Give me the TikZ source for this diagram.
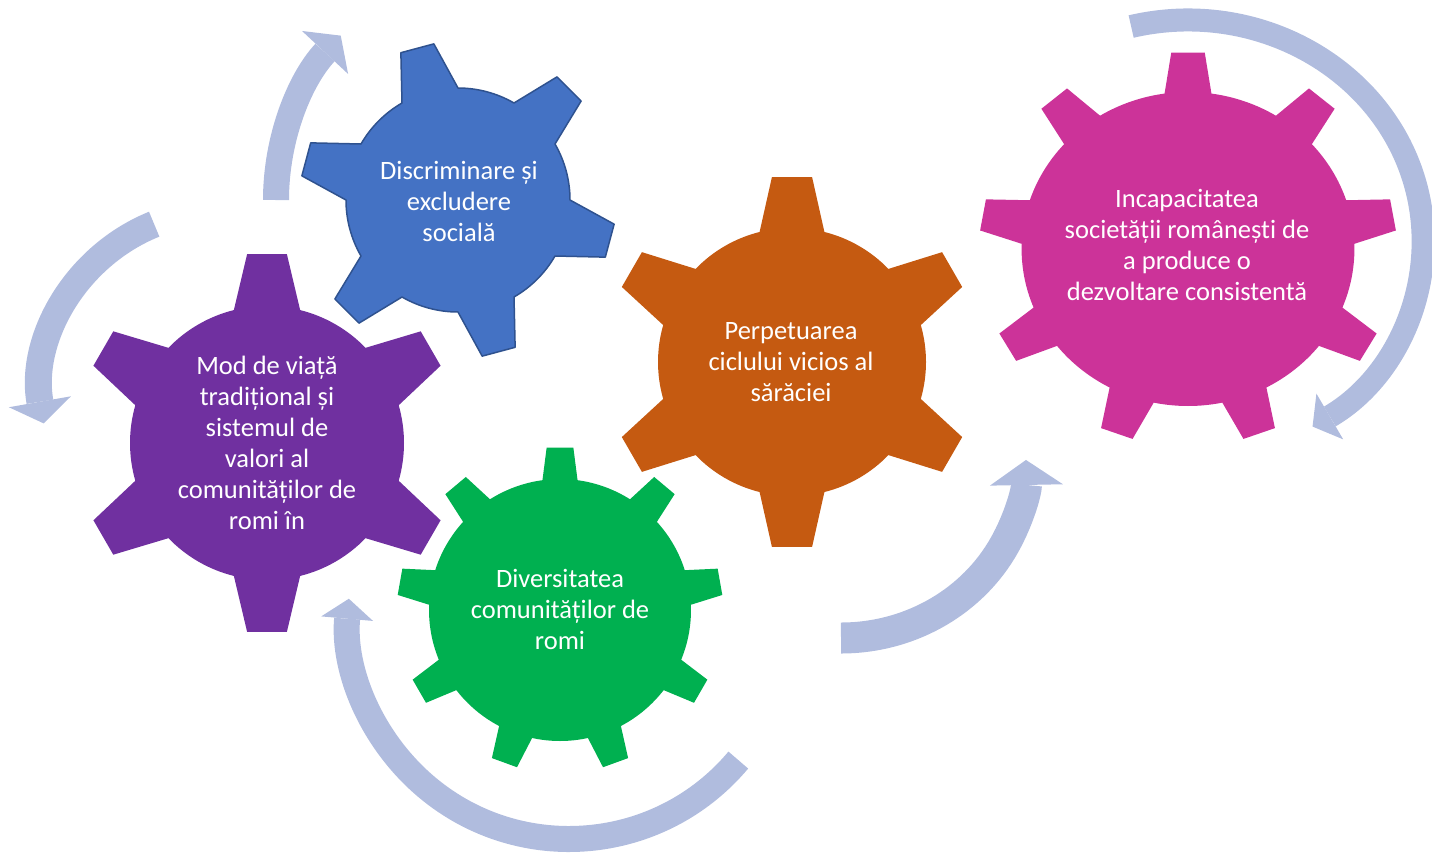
\documentclass[tikz,border=0pt]{standalone}
\usepackage{fontspec}
\setmainfont{Carlito}[Ligatures=NoCommon]
\usetikzlibrary{arrows.meta}

\definecolor{cogpurple}{HTML}{7030A0}
\definecolor{cogblue}{HTML}{4472C4}
\definecolor{cogblueline}{HTML}{2F528F}
\definecolor{cogorange}{HTML}{C55A11}
\definecolor{coggreen}{HTML}{00B050}
\definecolor{cogmagenta}{HTML}{CC3399}
\definecolor{bandblue}{RGB}{176,188,222}

% #1 options, #2 centre, #3 teeth, #4 body radius, #5 tip radius,
% #6 first tooth angle, #7 half angle at base, #8 half angle at tip
\newcommand{\cog}[8]{%
  \pgfmathsetmacro\cogstep{360/#3}%
  \path[shift={#2},#1] ({#6-#7}:#4)
    \foreach \k in {1,...,#3}{%
      -- ({#6+(\k-1)*\cogstep-#8}:#5) -- ({#6+(\k-1)*\cogstep+#8}:#5)
      -- ({#6+(\k-1)*\cogstep+#7}:#4)
      arc[start angle={#6+(\k-1)*\cogstep+#7},end angle={#6+\k*\cogstep-#7},radius=#4]
    } -- cycle;
}

\begin{document}
\begin{tikzpicture}[x=1pt,y=-1pt,
    cogtext/.style={text=white,align=center,font=\fontsize{26.5}{31}\selectfont},
    loopband/.style={draw=bandblue,line width=#1}]
  \useasboundingbox (0,0) rectangle (1432,855);

  % gears
  \cog{fill=cogpurple}{(267,443)}{6}{137}{190}{-90}{14}{6}
  \cog{fill=cogblue,draw=cogblueline,line width=1.5pt,line join=round}{(458,200)}{6}{112}{158}{15}{15}{6.2}
  \cog{fill=cogorange}{(792,362)}{6}{134}{186}{-90}{14}{6.2}
  \cog{fill=coggreen}{(560,610)}{9}{131}{163}{-90}{7.7}{4.7}
  \cog{fill=cogmagenta,xscale=1.06}{(1188,249)}{9}{157}{197}{-90}{8.1}{4.6}

  \node[cogtext] (viata) at (267,443) {Mod de viață\\tradițional și\\sistemul de\\valori al\\comunităților de\\romi în};
  \node[cogtext] (discr) at (459,201) {Discriminare și\\excludere\\socială};
  \node[cogtext] (saracie) at (791,362) {Perpetuarea\\ciclului vicios al\\sărăciei};
  \node[cogtext] (divers) at (560,609) {Diversitatea\\comunităților de\\romi};
  \node[cogtext] (incap) at (1187,245) {Incapacitatea\\societății românești de\\a produce o\\dezvoltare consistentă};

  % circular arrows
  \coordinate (ctrA) at (517,200);
  \coordinate (ctrB) at (222,392);
  \coordinate (ctrC) at (569,618);
  \coordinate (ctrD) at (841,463);
  \coordinate (ctrE) at (1188,240);
  \draw[loopband=26pt,-{Triangle[width=63pt,length=23pt,line width=0pt]}]
    ([shift={(180:241)}]ctrA) arc[start angle=180,end angle=223,radius=241];
  \draw[loopband=27pt,-{Triangle[width=63pt,length=22pt,line width=0pt]}]
    ([shift={(248:181)}]ctrB) arc[start angle=248,end angle=170,radius=181];
  \draw[loopband=26pt,-{Triangle[width=52pt,length=20pt,line width=0pt]}]
    ([shift={(40:221)}]ctrC) arc[start angle=40,end angle=185,radius=221];
  \draw[loopband=31pt,-{Triangle[width=73pt,length=25pt,line width=0pt]}]
    ([shift={(90:185 and 175)}]ctrD) arc[start angle=90,end angle=-1,x radius=185,y radius=175];
  \draw[loopband=23pt,-{Triangle[width=53pt,length=20pt,line width=0pt]}]
    ([shift={(256:235 and 220)}]ctrE) arc[start angle=256,end angle=418,x radius=235,y radius=220];
\end{tikzpicture}
\end{document}
